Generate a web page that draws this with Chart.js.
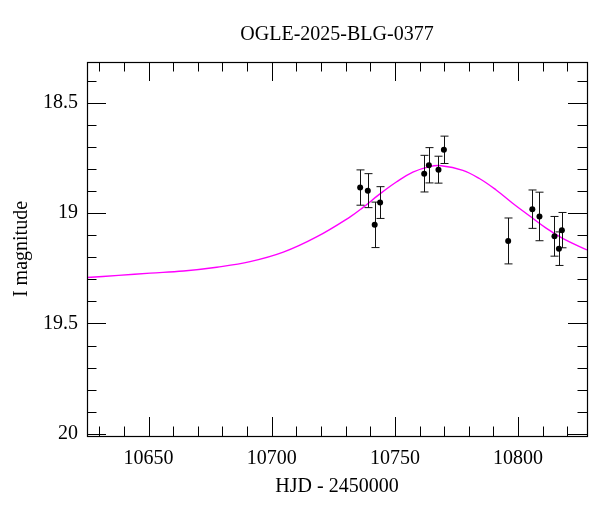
<!DOCTYPE html>
<html>
<head>
<meta charset="utf-8">
<script src="https://cdn.jsdelivr.net/npm/chart.js@4/dist/chart.umd.min.js"></script>
<style>
html,body{margin:0;padding:0;background:#fff;}
#wrap{width:600px;height:512px;}
</style>
</head>
<body>
<div id="wrap"><canvas id="c" width="600" height="512"></canvas></div>
<script>
// ---- data ----
const titleText = "OGLE-2025-BLG-0377";
const xTitle = "HJD - 2450000";
const yTitle = "I magnitude";

const obsHJD = [10735.9, 10739.0, 10741.8, 10744.0, 10761.9, 10763.8, 10767.7, 10769.9,
                10796.0, 10805.8, 10808.7, 10814.8, 10816.6, 10817.8];
const obsMag = [18.884, 18.898, 19.053, 18.952, 18.821, 18.783, 18.803, 18.713,
                19.126, 18.982, 19.015, 19.105, 19.161, 19.077];
const obsErr = [0.080, 0.077, 0.103, 0.072, 0.083, 0.080, 0.061, 0.062,
                0.104, 0.087, 0.110, 0.090, 0.076, 0.080];

const modelHJD = [10625.0, 10637.8, 10650.7, 10664.2, 10677.7, 10691.2, 10704.7, 10718.2,
                  10731.7, 10737.1, 10743.8, 10750.6, 10757.3, 10764.1, 10768.8, 10777.6,
                  10784.3, 10791.1, 10797.8, 10804.6, 10811.4, 10818.1, 10828.0];
const modelMag = [19.292, 19.282, 19.272, 19.262, 19.245, 19.220, 19.177, 19.108,
                  19.018, 18.974, 18.914, 18.859, 18.814, 18.789, 18.785, 18.806,
                  18.843, 18.895, 18.955, 19.012, 19.068, 19.114, 19.167];

const xTickValues = [10650, 10700, 10750, 10800];
const xTickLabels = ["10650", "10700", "10750", "10800"];
const yTickValues = [18.5, 19, 19.5, 20];
const yTickLabels = ["18.5", "19", "19.5", "20"];

// ---- chart ----
const FONT = "'Liberation Serif', 'Times New Roman', serif";

const framePlugin = {
  id: 'frame',
  beforeDatasetDraw(chart, args) {
    if (args.index !== 1) return;
    const ctx = chart.ctx, xs = chart.scales.x, ys = chart.scales.y;
    ctx.save();
    ctx.strokeStyle = '#111';
    ctx.lineWidth = 1;
    for (let i = 0; i < obsHJD.length; i++) {
      const px = Math.round(xs.getPixelForValue(obsHJD[i])) + 0.5;
      const y1 = ys.getPixelForValue(obsMag[i] - obsErr[i]);
      const y2 = ys.getPixelForValue(obsMag[i] + obsErr[i]);
      ctx.beginPath();
      ctx.moveTo(px, y1); ctx.lineTo(px, y2);
      ctx.moveTo(px - 4, y1); ctx.lineTo(px + 4, y1);
      ctx.moveTo(px - 4, y2); ctx.lineTo(px + 4, y2);
      ctx.stroke();
    }
    ctx.restore();
  },
  afterDraw(chart) {
    const ctx = chart.ctx, a = chart.chartArea, xs = chart.scales.x, ys = chart.scales.y;
    ctx.save();
    ctx.strokeStyle = '#000';
    ctx.lineWidth = 1;
    ctx.beginPath();
    // x ticks (inward, top & bottom)
    for (let v = Math.ceil(xs.min / 10) * 10; v <= xs.max; v += 10) {
      const major = (v % 50 === 0);
      const len = major ? 19 : 9.5;
      const px = Math.round(xs.getPixelForValue(v)) + 0.5;
      ctx.moveTo(px, a.bottom); ctx.lineTo(px, a.bottom - len);
      ctx.moveTo(px, a.top); ctx.lineTo(px, a.top + len);
    }
    // y ticks (inward, left & right)
    for (let k = Math.ceil(ys.min * 10 - 1e-6); k <= Math.floor(ys.max * 10 + 1e-6); k++) {
      const v = k / 10;
      const major = (k % 5 === 0);
      const len = major ? 19 : 9.5;
      const py = Math.round(ys.getPixelForValue(v)) + 0.5;
      ctx.moveTo(a.left, py); ctx.lineTo(a.left + len, py);
      ctx.moveTo(a.right, py); ctx.lineTo(a.right - len, py);
    }
    ctx.stroke();
    // frame
    ctx.lineWidth = 1.2;
    ctx.strokeRect(Math.round(a.left) + 0.5, Math.round(a.top) + 0.5,
                   Math.round(a.right - a.left), Math.round(a.bottom - a.top));
    // title, centred over the plot area
    ctx.fillStyle = '#000';
    ctx.font = "20px " + FONT;
    ctx.textAlign = 'center';
    ctx.textBaseline = 'middle';
    ctx.fillText(titleText, (a.left + a.right) / 2, 35);
    ctx.restore();
  }
};

new Chart(document.getElementById('c'), {
  type: 'scatter',
  data: {
    datasets: [
      {
        label: 'model',
        data: modelHJD.map((x, i) => ({x: x, y: modelMag[i]})),
        showLine: true,
        borderColor: '#ff00ff',
        borderWidth: 1.4,
        pointRadius: 0,
        tension: 0.4,
        order: 2
      },
      {
        label: 'data',
        data: obsHJD.map((x, i) => ({x: x, y: obsMag[i]})),
        showLine: false,
        backgroundColor: '#000',
        borderColor: '#000',
        borderWidth: 0,
        pointRadius: 3,
        order: 1
      }
    ]
  },
  options: {
    responsive: false,
    animation: false,
    devicePixelRatio: 1,
    layout: { padding: { top: 62, right: 13, left: 0, bottom: 0 } },
    plugins: { legend: { display: false }, tooltip: { enabled: false }, title: { display: false } },
    scales: {
      x: {
        type: 'linear',
        min: 10625, max: 10828,
        grid: { display: false, drawTicks: false, tickLength: 0 },
        border: { display: false },
        afterFit(s) { s.height = 76; },
        afterBuildTicks(s) { s.ticks = xTickValues.map(v => ({value: v})); },
        ticks: {
          autoSkip: false, maxRotation: 0, padding: 11,
          color: '#000', font: { family: FONT, size: 20 },
          callback: (v) => { const i = xTickValues.indexOf(v); return i >= 0 ? xTickLabels[i] : ''; }
        },
        title: { display: true, text: xTitle, color: '#000', font: { family: FONT, size: 20 }, padding: { top: 0, bottom: 13 } }
      },
      y: {
        type: 'linear',
        reverse: true,
        min: 18.315, max: 20.01,
        grid: { display: false, drawTicks: false, tickLength: 0 },
        border: { display: false },
        afterFit(s) { s.width = 87; },
        afterBuildTicks(s) { s.ticks = yTickValues.map(v => ({value: v})); },
        ticks: {
          autoSkip: false, padding: 9,
          color: '#000', font: { family: FONT, size: 20 },
          callback: (v) => { const i = yTickValues.indexOf(v); return i >= 0 ? yTickLabels[i] : ''; }
        },
        title: { display: true, text: yTitle, color: '#000', font: { family: FONT, size: 20 }, padding: { top: 10, bottom: 0 } }
      }
    }
  },
  plugins: [framePlugin]
});
</script>
</body>
</html>
